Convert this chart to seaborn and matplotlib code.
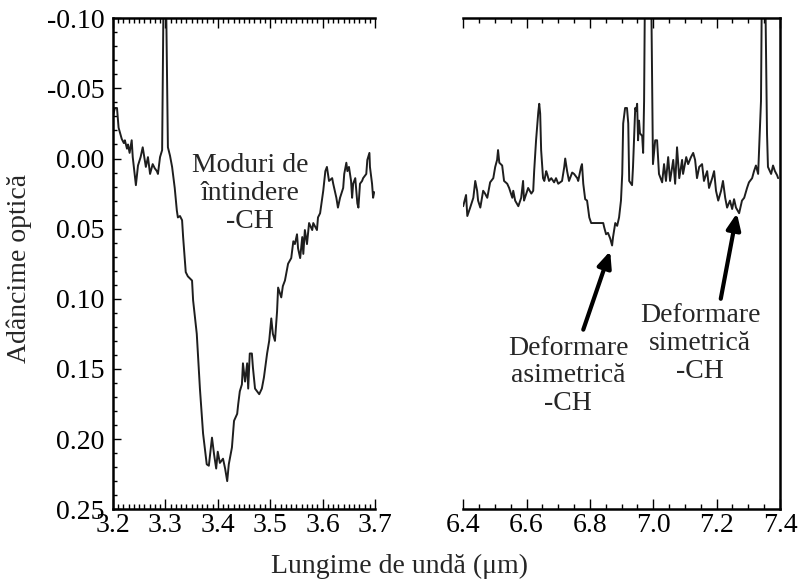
import matplotlib
matplotlib.use("Agg")
import matplotlib.pyplot as plt
import seaborn as sns
import pandas as pd
from matplotlib.ticker import MultipleLocator, FuncFormatter

# ---------------- data ----------------
left_x = [3.200, 3.204, 3.208, 3.211, 3.217, 3.221, 3.223, 3.227, 3.229, 3.232,
          3.236, 3.238, 3.244, 3.248, 3.253, 3.257, 3.263, 3.267, 3.271, 3.276,
          3.280, 3.284, 3.286, 3.290, 3.294, 3.297, 3.301, 3.305, 3.309, 3.313,
          3.318, 3.322, 3.324, 3.328, 3.332, 3.334, 3.339, 3.343, 3.351, 3.353,
          3.360, 3.366, 3.372, 3.379, 3.383, 3.389, 3.393, 3.397, 3.400, 3.404,
          3.410, 3.414, 3.418, 3.421, 3.427, 3.431, 3.437, 3.439, 3.442, 3.446,
          3.448, 3.452, 3.456, 3.458, 3.461, 3.465, 3.467, 3.471, 3.475, 3.479,
          3.484, 3.488, 3.494, 3.498, 3.502, 3.505, 3.509, 3.513, 3.515, 3.521,
          3.524, 3.528, 3.534, 3.540, 3.544, 3.547, 3.551, 3.553, 3.557, 3.561,
          3.563, 3.566, 3.570, 3.574, 3.580, 3.582, 3.589, 3.591, 3.595, 3.601,
          3.605, 3.608, 3.612, 3.618, 3.620, 3.626, 3.629, 3.633, 3.639, 3.641,
          3.645, 3.647, 3.650, 3.654, 3.656, 3.658, 3.662, 3.666, 3.668, 3.671,
          3.675, 3.677, 3.683, 3.685, 3.689, 3.690, 3.694, 3.696, 3.698]
left_y = [-0.030, -0.036, -0.036, -0.022, -0.014, -0.011, -0.013, -0.007, -0.010, -0.004,
          -0.013, -0.001, 0.019, 0.005, -0.001, -0.008, 0.006, -0.001, 0.011, 0.004,
          0.007, 0.009, 0.011, -0.001, -0.006, -0.130, -0.130, -0.008, -0.002, 0.006,
          0.021, 0.037, 0.042, 0.041, 0.044, 0.056, 0.081, 0.084, 0.087, 0.101,
          0.125, 0.164, 0.196, 0.218, 0.219, 0.199, 0.211, 0.221, 0.209, 0.217,
          0.214, 0.221, 0.230, 0.218, 0.206, 0.187, 0.182, 0.175, 0.166, 0.161,
          0.146, 0.159, 0.146, 0.164, 0.139, 0.139, 0.149, 0.164, 0.166, 0.168,
          0.164, 0.156, 0.139, 0.130, 0.114, 0.125, 0.130, 0.109, 0.092, 0.099,
          0.091, 0.087, 0.075, 0.071, 0.059, 0.061, 0.054, 0.064, 0.071, 0.056,
          0.068, 0.051, 0.061, 0.046, 0.051, 0.046, 0.051, 0.042, 0.039, 0.023,
          0.009, 0.006, 0.016, 0.014, 0.018, 0.028, 0.035, 0.028, 0.021, 0.011,
          0.003, 0.009, 0.006, 0.016, 0.028, 0.018, 0.014, 0.032, 0.035, 0.018,
          0.016, 0.014, 0.011, 0.001, -0.004, 0.006, 0.018, 0.028, 0.024]

right_x = [6.400, 6.409, 6.413, 6.422, 6.432, 6.438, 6.444, 6.447, 6.454, 6.463,
           6.469, 6.476, 6.485, 6.495, 6.501, 6.507, 6.510, 6.514, 6.523, 6.529,
           6.539, 6.545, 6.555, 6.558, 6.564, 6.574, 6.583, 6.589, 6.592, 6.602,
           6.605, 6.615, 6.621, 6.624, 6.630, 6.637, 6.640, 6.643, 6.646, 6.652,
           6.656, 6.662, 6.665, 6.671, 6.678, 6.687, 6.693, 6.700, 6.712, 6.719,
           6.722, 6.728, 6.734, 6.744, 6.750, 6.760, 6.763, 6.772, 6.775, 6.779,
           6.785, 6.791, 6.798, 6.804, 6.810, 6.823, 6.832, 6.842, 6.845, 6.851,
           6.857, 6.864, 6.870, 6.873, 6.880, 6.886, 6.892, 6.898, 6.902, 6.905,
           6.911, 6.917, 6.921, 6.924, 6.933, 6.936, 6.943, 6.946, 6.949, 6.952,
           6.955, 6.958, 6.965, 6.968, 6.971, 6.974, 6.993, 6.999, 7.006, 7.012,
           7.018, 7.028, 7.034, 7.040, 7.047, 7.053, 7.063, 7.069, 7.075, 7.082,
           7.091, 7.094, 7.104, 7.110, 7.119, 7.126, 7.132, 7.138, 7.145, 7.154,
           7.160, 7.170, 7.176, 7.186, 7.192, 7.198, 7.205, 7.214, 7.220, 7.227,
           7.233, 7.242, 7.249, 7.255, 7.261, 7.271, 7.280, 7.287, 7.296, 7.302,
           7.312, 7.318, 7.324, 7.331, 7.340, 7.343, 7.353, 7.359, 7.362, 7.372,
           7.378, 7.384, 7.391, 7.394]
right_y = [0.034, 0.026, 0.041, 0.035, 0.028, 0.016, 0.023, 0.030, 0.035, 0.023,
           0.025, 0.028, 0.017, 0.014, 0.006, 0.001, -0.006, 0.003, 0.005, 0.016,
           0.018, 0.021, 0.028, 0.023, 0.030, 0.034, 0.028, 0.016, 0.030, 0.023,
           0.021, 0.025, 0.023, 0.009, -0.013, -0.033, -0.039, -0.032, -0.006, 0.014,
           0.016, 0.009, 0.011, 0.016, 0.014, 0.017, 0.014, 0.018, 0.016, 0.006,
           0.000, 0.009, 0.016, 0.010, 0.011, 0.014, 0.016, 0.006, 0.004, 0.018,
           0.029, 0.030, 0.042, 0.046, 0.046, 0.046, 0.046, 0.046, 0.049, 0.054,
           0.053, 0.057, 0.062, 0.056, 0.046, 0.048, 0.042, 0.030, 0.011, -0.025,
           -0.036, -0.036, -0.025, 0.016, 0.019, 0.006, -0.036, -0.034, -0.039, -0.013,
           -0.027, -0.018, -0.016, -0.004, -0.041, -0.130, -0.130, 0.004, -0.013, -0.013,
           0.011, 0.017, 0.004, 0.016, -0.001, 0.016, 0.001, 0.018, -0.008, 0.014,
           0.001, 0.011, -0.001, 0.004, -0.001, -0.004, 0.001, 0.014, 0.006, 0.004,
           0.016, 0.009, 0.021, 0.014, 0.009, 0.023, 0.030, 0.023, 0.016, 0.028,
           0.035, 0.030, 0.036, 0.029, 0.035, 0.039, 0.030, 0.028, 0.021, 0.017,
           0.014, 0.009, 0.005, 0.011, -0.041, -0.130, -0.130, -0.018, 0.006, 0.011,
           0.005, 0.009, 0.012, 0.014]

left_xticks = [3.2, 3.3, 3.4, 3.5, 3.6, 3.7]
right_xticks = [6.4, 6.6, 6.8, 7.0, 7.2, 7.4]
yticks = [-0.10, -0.05, 0.00, 0.05, 0.10, 0.15, 0.20, 0.25]

label_stretch = "Moduri de\nîntindere\n-CH"
label_asym = "Deformare\nasimetrică\n-CH"
label_sym = "Deformare\nsimetrică\n-CH"
xlabel = "Lungime de undă (μm)"
ylabel = "Adâncime optică"

# ---------------- style ----------------
sns.set_theme(style="ticks")
plt.rcParams['font.family'] = ['Liberation Serif', 'DejaVu Serif']
plt.rcParams['axes.unicode_minus'] = False
FS = 20

fig = plt.figure(figsize=(8, 5.88), dpi=100)
axL = fig.add_axes([0.141, 0.134, 0.328, 0.835])
axR = fig.add_axes([0.579, 0.134, 0.396, 0.835])

dfL = pd.DataFrame({"x": left_x, "y": left_y})
dfR = pd.DataFrame({"x": right_x, "y": right_y})

line_kw = dict(color="#1e1e1e", linewidth=1.4, sort=False, estimator=None)
sns.lineplot(data=dfL, x="x", y="y", ax=axL, **line_kw)
sns.lineplot(data=dfR, x="x", y="y", ax=axR, **line_kw)

for ax in (axL, axR):
    ax.set_ylim(0.25, -0.10)
    ax.set_xlabel("")
    ax.set_ylabel("")
    for s in ax.spines.values():
        s.set_linewidth(1.8)
        s.set_color("black")
    ax.tick_params(axis="x", which="both", direction="in", top=True, bottom=True,
                   labelsize=FS, pad=2.5, colors="black", width=1.0)
    ax.tick_params(axis="x", which="major", length=7)
    ax.tick_params(axis="x", which="minor", length=3.5)

# left panel
axL.set_xlim(3.2, 3.7)
axL.set_xticks(left_xticks)
axL.xaxis.set_major_formatter(FuncFormatter(lambda v, p: f"{v:.1f}"))
axL.xaxis.set_minor_locator(MultipleLocator(0.01))
axL.set_yticks(yticks)
axL.yaxis.set_major_formatter(FuncFormatter(lambda v, p: f"{v:.2f}"))
axL.yaxis.set_minor_locator(MultipleLocator(0.01))
axL.tick_params(axis="y", which="both", direction="in", left=True, right=False,
                labelsize=FS, pad=6, colors="black", width=1.0)
axL.tick_params(axis="y", which="major", length=6)
axL.tick_params(axis="y", which="minor", length=3)
axL.spines["right"].set_visible(False)

# right panel
axR.set_xlim(6.4, 7.4)
axR.set_xticks(right_xticks)
axR.xaxis.set_major_formatter(FuncFormatter(lambda v, p: f"{v:.1f}"))
axR.xaxis.set_minor_locator(MultipleLocator(0.05))
axR.set_yticks([])
axR.tick_params(axis="y", which="both", left=False, right=False, labelleft=False)
axR.spines["left"].set_visible(False)

# annotations
axL.text(3.461, 0.025, label_stretch, ha="center", va="center", fontsize=FS,
         linespacing=1.15)
axR.text(6.731, 0.155, label_asym, ha="center", va="center", fontsize=FS,
         linespacing=1.15)
axR.text(7.148, 0.132, label_sym, ha="center", va="center", fontsize=FS,
         linespacing=1.15)
arrow_kw = dict(arrowstyle="-|>,head_length=0.8,head_width=0.35", lw=3,
                color="black", shrinkA=0, shrinkB=0)
axR.annotate("", xy=(6.864, 0.066), xytext=(6.779, 0.122), arrowprops=arrow_kw)
axR.annotate("", xy=(7.264, 0.039), xytext=(7.213, 0.100), arrowprops=arrow_kw)

fig.text(0.499, 0.036, xlabel, ha="center", va="center", fontsize=FS)
fig.text(0.024, 0.544, ylabel, ha="center", va="center", fontsize=FS, rotation=90)

fig.savefig("out.png", dpi=100)
